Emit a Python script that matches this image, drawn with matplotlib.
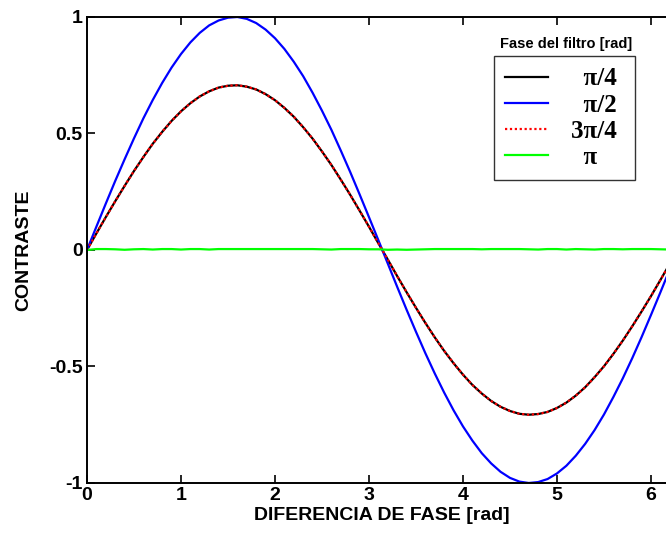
import matplotlib.pyplot as plt
from matplotlib.lines import Line2D

# contrast vs. phase difference for several filter phases
fase = [0.0, 0.1, 0.2, 0.3, 0.4, 0.5, 0.6, 0.7, 0.8, 0.9,
        1.0, 1.1, 1.2, 1.3, 1.4, 1.5, 1.6, 1.7, 1.8, 1.9,
        2.0, 2.1, 2.2, 2.3, 2.4, 2.5, 2.6, 2.7, 2.8, 2.9,
        3.0, 3.1, 3.2, 3.3, 3.4, 3.5, 3.6, 3.7, 3.8, 3.9,
        4.0, 4.1, 4.2, 4.3, 4.4, 4.5, 4.6, 4.7, 4.8, 4.9,
        5.0, 5.1, 5.2, 5.3, 5.4, 5.5, 5.6, 5.7, 5.8, 5.9,
        6.0, 6.1, 6.2, 6.283]

c_pi4 = [0.0, 0.071, 0.141, 0.209, 0.275, 0.339, 0.399, 0.456, 0.507, 0.554,
         0.595, 0.630, 0.659, 0.681, 0.697, 0.705, 0.707, 0.701, 0.689, 0.669,
         0.643, 0.610, 0.572, 0.527, 0.478, 0.423, 0.365, 0.302, 0.237, 0.169,
         0.100, 0.029, -0.041, -0.112, -0.181, -0.248, -0.313, -0.375, -0.433, -0.486,
         -0.535, -0.579, -0.616, -0.648, -0.673, -0.691, -0.703, -0.707, -0.704, -0.695,
         -0.678, -0.655, -0.625, -0.589, -0.546, -0.499, -0.446, -0.389, -0.328, -0.264,
         -0.198, -0.129, -0.059, 0.0]

c_pi2 = [0.0, 0.100, 0.199, 0.296, 0.389, 0.479, 0.565, 0.644, 0.717, 0.783,
         0.841, 0.891, 0.932, 0.964, 0.985, 0.997, 1.0, 0.992, 0.974, 0.946,
         0.909, 0.863, 0.808, 0.746, 0.675, 0.598, 0.516, 0.427, 0.335, 0.239,
         0.141, 0.042, -0.058, -0.158, -0.256, -0.351, -0.443, -0.530, -0.612, -0.688,
         -0.757, -0.818, -0.872, -0.916, -0.952, -0.978, -0.994, -1.0, -0.996, -0.983,
         -0.959, -0.926, -0.883, -0.832, -0.773, -0.706, -0.631, -0.551, -0.465, -0.374,
         -0.279, -0.182, -0.083, 0.0]

c_3pi4 = [0.0, 0.071, 0.141, 0.209, 0.275, 0.339, 0.399, 0.456, 0.507, 0.554,
          0.595, 0.630, 0.659, 0.681, 0.697, 0.705, 0.707, 0.701, 0.689, 0.669,
          0.643, 0.610, 0.572, 0.527, 0.478, 0.423, 0.365, 0.302, 0.237, 0.169,
          0.100, 0.029, -0.041, -0.112, -0.181, -0.248, -0.313, -0.375, -0.433, -0.486,
          -0.535, -0.579, -0.616, -0.648, -0.673, -0.691, -0.703, -0.707, -0.704, -0.695,
          -0.678, -0.655, -0.625, -0.589, -0.546, -0.499, -0.446, -0.389, -0.328, -0.264,
          -0.198, -0.129, -0.059, 0.0]

c_pi = [0.0, 0.004, 0.004, 0.003, 0.001, 0.003, 0.004, 0.002, 0.004, 0.004,
        0.002, 0.004, 0.004, 0.002, 0.004, 0.004, 0.004, 0.004, 0.004, 0.004,
        0.004, 0.004, 0.004, 0.004, 0.004, 0.003, 0.002, 0.004, 0.004, 0.004,
        0.003, 0.003, 0.001, 0.002, 0.001, 0.002, 0.003, 0.004, 0.004, 0.004,
        0.004, 0.004, 0.003, 0.004, 0.004, 0.004, 0.004, 0.003, 0.002, 0.004,
        0.004, 0.002, 0.004, 0.003, 0.002, 0.004, 0.004, 0.003, 0.004, 0.004,
        0.004, 0.003, 0.002, 0.002]

etiquetas = ['π/4', 'π/2', '3π/4', 'π']

sans = ['Liberation Sans Narrow', 'Liberation Sans', 'DejaVu Sans']

fig = plt.figure(figsize=(6.66, 5.43), dpi=100)
ax = fig.add_axes([0.1306, 0.1105, 0.8868, 0.8582])

ax.plot(fase, c_pi4, color='black', lw=1.6)
ax.plot(fase, c_pi2, color='#0000ff', lw=1.6)
ax.plot(fase, c_3pi4, color='red', lw=1.6, ls=(0, (1, 1.2)))
ax.plot(fase, c_pi, color='#00ff00', lw=1.6)

ax.set_xlim(0, 6.2832)
ax.set_ylim(-1, 1)
ax.set_xticks([0, 1, 2, 3, 4, 5, 6])
ax.set_yticks([-1, -0.5, 0, 0.5, 1])
ax.set_yticklabels(['-1', '-0.5', '0', '0.5', '1'])
ax.tick_params(direction='in', length=6, width=1.2, top=True, right=True, pad=3)
for lab in ax.get_xticklabels() + ax.get_yticklabels():
    lab.set_fontfamily(sans)
    lab.set_fontweight('bold')
    lab.set_fontsize(14)
for sp in ax.spines.values():
    sp.set_linewidth(1.4)

ax.set_xlabel('DIFERENCIA DE FASE [rad]', family=sans, weight='bold', fontsize=14, labelpad=2)
ax.set_ylabel('CONTRASTE', family=sans, weight='bold', fontsize=14, labelpad=12)

# legend box with the title sitting above the frame
handles = [
    Line2D([], [], color='black', lw=1.6),
    Line2D([], [], color='#0000ff', lw=1.6),
    Line2D([], [], color='red', lw=1.6, ls=(0, (1, 1.2))),
    Line2D([], [], color='#00ff00', lw=1.6),
]
leg = ax.legend(handles, ['  ' + etiquetas[0], '  ' + etiquetas[1],
                          etiquetas[2] + ' ', '  ' + etiquetas[3]],
                loc='upper left', bbox_to_anchor=(0.689, 0.916),
                prop={'family': 'Liberation Serif', 'size': 18, 'weight': 'bold'},
                frameon=True, fancybox=False, edgecolor='black',
                handlelength=1.7, handletextpad=0.95, labelspacing=0.13,
                borderpad=0.45, borderaxespad=0)
leg.get_frame().set_linewidth(1.0)

ax.text(0.812, 0.943, 'Fase del filtro [rad]', transform=ax.transAxes,
        ha='center', va='center', family=sans, weight='bold', fontsize=10.5)

fig.savefig('out.png', dpi=100)
